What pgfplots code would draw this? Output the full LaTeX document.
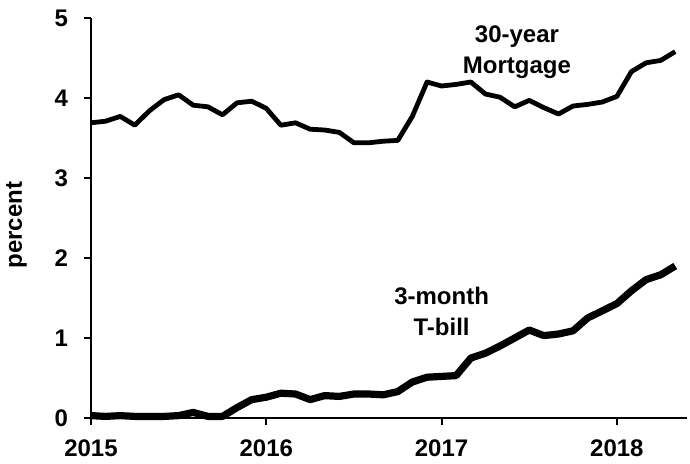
\documentclass[border=0pt]{standalone}
\usepackage{fontspec}
\setmainfont{Liberation Sans}
\usepackage{pgfplots}
\pgfplotsset{compat=1.18}
\begin{document}
\begin{tikzpicture}
\begin{axis}[
  scale only axis, width=298pt, height=200pt,
  xmin=2015, xmax=2018.4, ymin=0, ymax=5,
  axis x line=bottom, axis y line=left,
  axis line style={line width=1pt, -},
  xtick={2015,2016,2017,2018}, xticklabels={2015,2016,2017,2018},
  ytick={0,1,2,3,4,5},
  tick align=outside, major tick length=3.5pt,
  tick style={line width=1pt, black},
  /pgf/number format/assume math mode=true,
  ticklabel style={font=\fontsize{12}{14}\selectfont\bfseries},
  yticklabel style={xshift=-4.5pt},
  xticklabel style={yshift=-4pt},
  clip=false,
]
\addplot[black, line width=2.4pt, line join=round] coordinates {
(2015.000,3.69) (2015.083,3.71) (2015.167,3.77) (2015.250,3.66) (2015.333,3.84) (2015.417,3.98)
(2015.500,4.04) (2015.583,3.91) (2015.667,3.89) (2015.750,3.79) (2015.833,3.94) (2015.917,3.96)
(2016.000,3.87) (2016.083,3.66) (2016.167,3.69) (2016.250,3.61) (2016.333,3.60) (2016.417,3.57)
(2016.500,3.44) (2016.583,3.44) (2016.667,3.46) (2016.750,3.47) (2016.833,3.77) (2016.917,4.20)
(2017.000,4.15) (2017.083,4.17) (2017.167,4.20) (2017.250,4.05) (2017.333,4.01) (2017.417,3.89)
(2017.500,3.97) (2017.583,3.88) (2017.667,3.80) (2017.750,3.90) (2017.833,3.92) (2017.917,3.95)
(2018.000,4.02) (2018.083,4.33) (2018.167,4.44) (2018.250,4.47) (2018.333,4.58)
};
\addplot[black, line width=3.6pt, line join=round] coordinates {
(2015.000,0.03) (2015.083,0.02) (2015.167,0.03) (2015.250,0.02) (2015.333,0.02) (2015.417,0.02)
(2015.500,0.03) (2015.583,0.07) (2015.667,0.02) (2015.750,0.02) (2015.833,0.13) (2015.917,0.23)
(2016.000,0.26) (2016.083,0.31) (2016.167,0.30) (2016.250,0.23) (2016.333,0.28) (2016.417,0.27)
(2016.500,0.30) (2016.583,0.30) (2016.667,0.29) (2016.750,0.33) (2016.833,0.45) (2016.917,0.51)
(2017.000,0.52) (2017.083,0.53) (2017.167,0.75) (2017.250,0.81) (2017.333,0.90) (2017.417,1.00)
(2017.500,1.10) (2017.583,1.03) (2017.667,1.05) (2017.750,1.09) (2017.833,1.25) (2017.917,1.34)
(2018.000,1.43) (2018.083,1.59) (2018.167,1.73) (2018.250,1.79) (2018.333,1.90)
};
\node[align=center, font=\fontsize{12}{15.5}\selectfont\bfseries] at (axis cs:2017.43,4.57) {30-year\\Mortgage};
\node[align=center, font=\fontsize{12}{15.5}\selectfont\bfseries] at (axis cs:2017.0,1.33) {3-month\\T-bill};
\end{axis}
\node[rotate=90, anchor=base, font=\fontsize{12}{14}\selectfont\bfseries] at (-34.5pt,96.5pt) {percent};
\pgfresetboundingbox
\path[use as bounding box] (-45.5pt,-22.5pt) rectangle (299.5pt,209pt);
\end{tikzpicture}
\end{document}
